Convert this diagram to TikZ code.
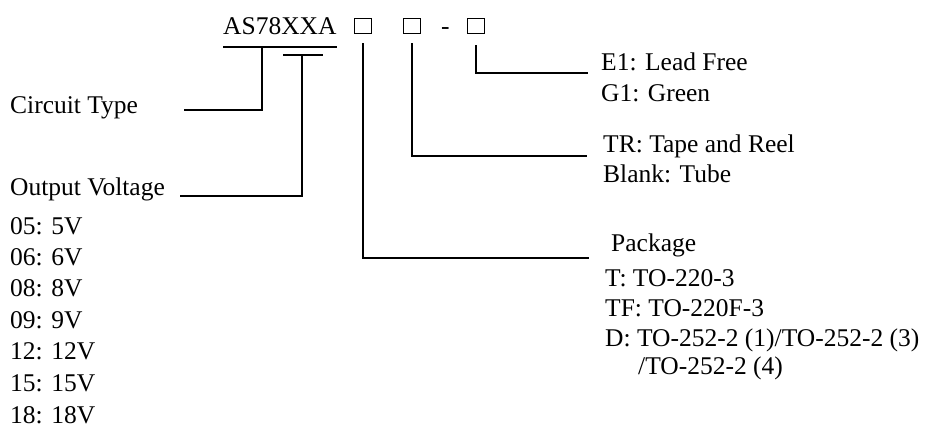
\documentclass[tikz,border=0pt]{standalone}
\usepackage{fontspec}
\setmainfont{Liberation Serif}
\begin{document}
\begin{tikzpicture}[x=1pt,y=-1pt,
  lbl/.style={anchor=base west,inner sep=0pt,font=\fontsize{25.5}{30}\selectfont},
  conn/.style={line width=2pt},
  slot/.style={draw,line width=1.8pt,minimum width=17pt,minimum height=15pt,inner sep=0pt}]
\useasboundingbox (0,0) rectangle (925,437);
% part number
\node[lbl] (part) at (223,34) {AS78XXA};
\node[slot] (b1) at (363,26) {};
\node[slot] (b2) at (412,26) {};
\node[lbl] (dash) at (441,34) {-};
\node[slot] (b3) at (476,26) {};
% left labels
\node[lbl] (ctype) at (10,113) {Circuit Type};
\node[lbl] (ovolt) at (10,195) {Output Voltage};
\node[lbl] (v05) at (10,234) {05: 5V};
\node[lbl] (v06) at (10,265) {06: 6V};
\node[lbl] (v08) at (10,296) {08: 8V};
\node[lbl] (v09) at (10,328) {09: 9V};
\node[lbl] (v12) at (10,359) {12: 12V};
\node[lbl] (v15) at (10,391) {15: 15V};
\node[lbl] (v18) at (10,423) {18: 18V};
% right labels
\node[lbl] (e1) at (601,70) {E1: Lead Free};
\node[lbl] (g1) at (601,101) {G1: Green};
\node[lbl] (tr) at (603,152) {TR: Tape and Reel};
\node[lbl] (blank) at (603,182) {Blank: Tube};
\node[lbl] (pkg) at (611,251) {Package};
\node[lbl] (pt) at (605,286) {T: TO-220-3};
\node[lbl] (ptf) at (605,316) {TF: TO-220F-3};
\node[lbl] (pd) at (605,346) {D: TO-252-2 (1)/TO-252-2 (3)};
\node[lbl] (pd2) at (638,374) {/TO-252-2 (4)};
% coordinates
\coordinate (ctL) at (223,47);
\coordinate (ctR) at (337,47);
\coordinate (ctJ) at (262,47);
\coordinate (ctEnd) at (184,110);
\coordinate (ovL) at (283,55);
\coordinate (ovR) at (323,55);
\coordinate (ovJ) at (302,55);
\coordinate (ovEnd) at (180,196);
\coordinate (pkEnd) at (589,258);
\coordinate (trEnd) at (587,156);
\coordinate (lfEnd) at (588,73);
% connectors
\draw[conn] (ctL) -- (ctR);
\draw[conn] (ctJ) |- (ctEnd);
\draw[conn] (ovL) -- (ovR);
\draw[conn] (ovJ) |- (ovEnd);
\draw[conn] ([yshift=-9pt]b1.south) |- (pkEnd);
\draw[conn] ([yshift=-9pt]b2.south) |- (trEnd);
\draw[conn] ([yshift=-11pt]b3.south) |- (lfEnd);
\end{tikzpicture}
\end{document}
